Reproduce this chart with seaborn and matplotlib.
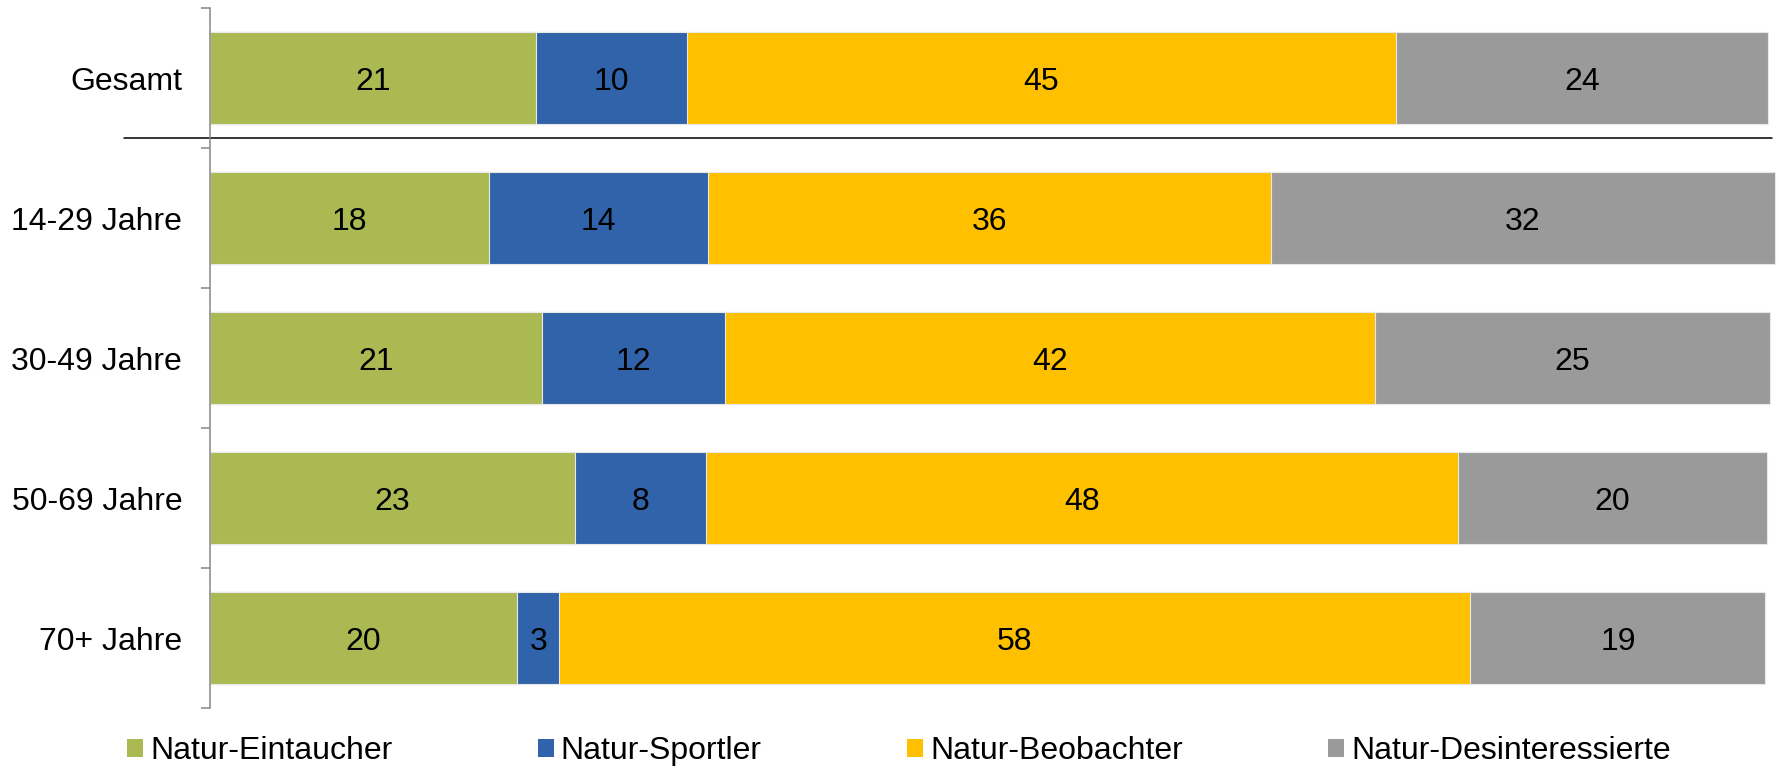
import numpy as np
import pandas as pd
import seaborn as sns
import matplotlib.pyplot as plt
from matplotlib.patches import Patch


categories = ["Gesamt", "14-29 Jahre", "30-49 Jahre", "50-69 Jahre", "70+ Jahre"]
series_names = ["Natur-Eintaucher", "Natur-Sportler", "Natur-Beobachter", "Natur-Desinteressierte"]

eintaucher = [20.9, 17.9, 21.3, 23.4, 19.7]
sportler = [9.7, 14.0, 11.7, 8.4, 2.7]
beobachter = [45.4, 36.1, 41.7, 48.2, 58.4]
desinteressierte = [23.9, 32.3, 25.3, 19.8, 18.9]

colors = ["#abb953", "#3063a9", "#ffc000", "#9a9a9a"]


def build_frame():
    df = pd.DataFrame({"group": categories,
                       series_names[0]: eintaucher,
                       series_names[1]: sportler,
                       series_names[2]: beobachter,
                       series_names[3]: desinteressierte})
    return df


def plot(df):
    sns.set_theme(style="white")
    plt.rcParams['font.family'] = ['Liberation Sans', 'DejaVu Sans']
    plt.rcParams['text.color'] = 'black'
    fs = 23

    fig = plt.figure(figsize=(17.79, 7.68), dpi=100)
    ax = fig.add_axes([210 / 1779, 60 / 768, 1569 / 1779, 700 / 768])

    cum = df[series_names].cumsum(axis=1)

    # stacked look: draw the running totals from the largest down
    for name, col in reversed(list(zip(series_names, colors))):
        sns.barplot(x=cum[name], y=df["group"], orient="h", color=col, width=0.66,
                    edgecolor="#e8e8e8", linewidth=0.8, saturation=1, ax=ax)

    # value labels in the middle of each segment
    for name in series_names:
        centers = cum[name] - df[name] / 2
        for i, (c, v) in enumerate(zip(centers, df[name])):
            ax.text(c, i, f"{v:.0f}", ha="center", va="center_baseline",
                    fontsize=fs, color="black")

    ax.set_xlim(0, 1569 / 15.6)
    ax.set_ylim(len(categories) - 0.5, -0.5)
    ax.set_xlabel("")
    ax.set_ylabel("")
    ax.set_xticks([])

    ax.set_yticks(range(len(categories)))
    ax.set_yticklabels(categories, fontsize=fs, color="black")
    ax.set_yticks(np.arange(-0.5, len(categories), 1), minor=True)
    ax.tick_params(axis="y", which="major", length=0, pad=20)
    ax.tick_params(axis="y", which="minor", left=True, length=6.5, width=1.1, color="#868686")

    for s in ["top", "right", "bottom"]:
        ax.spines[s].set_visible(False)
    ax.spines["left"].set_color("#868686")
    ax.spines["left"].set_linewidth(1.1)

    # line separating the total from the age groups
    ax.plot([-86 / 1569, 1562 / 1569], [0.43, 0.43], color="black", linewidth=1.1,
            transform=ax.get_yaxis_transform(), clip_on=False)

    handles = [Patch(facecolor=c, edgecolor="none") for c in colors]
    leg = fig.legend(handles, series_names, loc="center left", bbox_to_anchor=(127 / 1779, 17 / 768),
                     ncol=4, frameon=False, fontsize=fs, handlelength=0.5, handleheight=0.5,
                     handletextpad=0.22, columnspacing=4.55, borderpad=0, borderaxespad=0)
    for t in leg.get_texts():
        t.set_color("black")

    plt.savefig("out.png", dpi=100)


if __name__ == "__main__":
    df = build_frame()
    plot(df)
